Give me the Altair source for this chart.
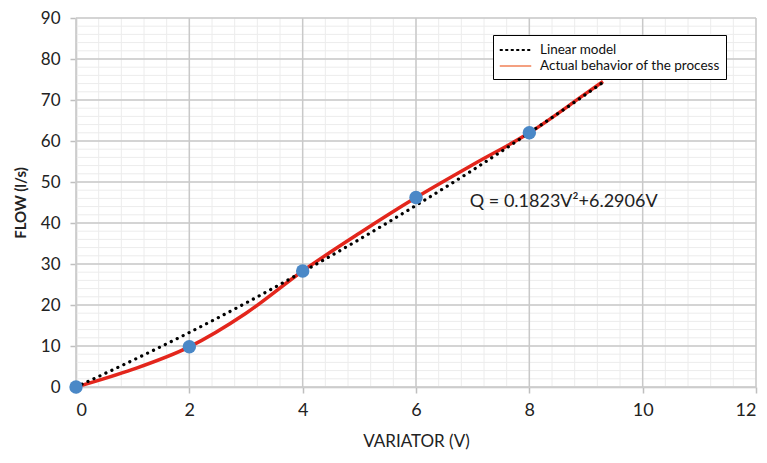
import altair as alt
import pandas as pd
import numpy as np

# Measured points (blue markers)
pt_x = [0, 2, 4, 6, 8]
pt_y = [0, 9.8, 28.3, 46.2, 62.0]

# Actual behaviour curve (red)
act_x = [0, 1, 2, 3, 4, 5, 6, 7, 8, 9, 9.3]
act_y = [0, 4.3, 9.8, 18.0, 28.3, 37.5, 46.2, 54.2, 62.0, 71.6, 74.5]

# Linear model curve (black dotted)
lin_x = [0, 1, 2, 3, 4, 5, 6, 7, 8, 9, 9.3]
lin_y = [0, 6.5, 13.3, 20.5, 28.1, 36.0, 44.3, 52.9, 62.0, 71.4, 74.3]

series_names = ["Linear model", "Actual behavior of the process"]

eq_text = ["Q = 0.1823V\u00b2+6.2906V"]
eq_x = [6.95]
eq_y = [45.2]

x_ticks = [0, 2, 4, 6, 8, 10, 12]
y_ticks = [0, 10, 20, 30, 40, 50, 60, 70, 80, 90]
x_minor = [round(v, 2) for v in np.arange(0, 12.01, 0.4)]
y_minor = [int(v) for v in np.arange(0, 91, 2)]

FONT = "Lato"
xs = alt.Scale(domain=[0, 12], nice=False)
ys = alt.Scale(domain=[0, 90], nice=False)

pts = pd.DataFrame({"x": pt_x, "y": pt_y})
act = pd.DataFrame({"x": act_x, "y": act_y, "series": series_names[1]})
lin = pd.DataFrame({"x": lin_x, "y": lin_y, "series": series_names[0]})

minor_x = alt.Chart(pd.DataFrame({"x": x_minor})).mark_rule(
    color="#ececec", strokeWidth=1
).encode(x=alt.X("x:Q", scale=xs))
minor_y = alt.Chart(pd.DataFrame({"y": y_minor})).mark_rule(
    color="#ececec", strokeWidth=1
).encode(y=alt.Y("y:Q", scale=ys))
major_x = alt.Chart(pd.DataFrame({"x": x_ticks})).mark_rule(
    color="#c9c9c9", strokeWidth=1.5
).encode(x=alt.X("x:Q", scale=xs))
major_y = alt.Chart(pd.DataFrame({"y": y_ticks})).mark_rule(
    color="#c9c9c9", strokeWidth=1.5
).encode(y=alt.Y("y:Q", scale=ys))

# Empty layer carrying the axes and the legend only
legend_layer = alt.Chart(act).mark_line().encode(
    x=alt.X("x:Q", scale=xs,
            axis=alt.Axis(values=x_ticks, format="d", title="VARIATOR (V)", grid=False,
                          domainColor="#bfbfbf", domainWidth=1.5,
                          tickColor="#bfbfbf", tickSize=6, tickWidth=1.5,
                          labelFontSize=18, labelFont=FONT, labelColor="#222",
                          labelPadding=8, titleFont=FONT, titleFontSize=17,
                          titleFontWeight="normal", titleColor="#222",
                          titlePadding=14)),
    y=alt.Y("y:Q", scale=ys,
            axis=alt.Axis(values=y_ticks, format="d", title="FLOW (l/s)", grid=False,
                          domainColor="#bfbfbf", domainWidth=1.5,
                          tickColor="#bfbfbf", tickSize=6, tickWidth=1.5,
                          labelFontSize=17, labelFont=FONT, labelColor="#222",
                          labelPadding=10, titleFont=FONT, titleFontSize=15,
                          titleFontWeight="bold", titleColor="#222",
                          titlePadding=12)),
    color=alt.Color("series:N",
                    scale=alt.Scale(domain=series_names, range=["#000000", "#f4a080"]),
                    legend=alt.Legend(title=None, orient="none", legendX=417, legendY=17,
                                      strokeColor="#000", fillColor="white",
                                      padding=6, labelFont=FONT, labelFontSize=13.5,
                                      labelColor="#111", labelLimit=400,
                                      symbolType="M-2.1,0H2.1",
                                      symbolStrokeWidth=2.2, symbolSize=225,
                                      symbolOffset=7.5, labelOffset=15.5,
                                      rowPadding=0)),
    strokeDash=alt.StrokeDash("series:N",
                              scale=alt.Scale(domain=series_names, range=[[3, 2.5], [1, 0]]),
                              legend=None),
).transform_filter("false")

lin_line = alt.Chart(lin).mark_line(
    color="black", strokeWidth=3.2, strokeDash=[0.1, 6.5], strokeCap="round",
    interpolate="monotone"
).encode(x=alt.X("x:Q", scale=xs), y=alt.Y("y:Q", scale=ys))

act_line = alt.Chart(act).mark_line(
    color="#e3261c", strokeWidth=3.5, interpolate="monotone"
).encode(x=alt.X("x:Q", scale=xs), y=alt.Y("y:Q", scale=ys))

points = alt.Chart(pts).mark_circle(size=180, color="#4a88c7", opacity=1).encode(
    x=alt.X("x:Q", scale=xs), y=alt.Y("y:Q", scale=ys)
)

eq = alt.Chart(pd.DataFrame({"x": eq_x, "y": eq_y, "t": eq_text})).mark_text(
    align="left", baseline="middle", font=FONT, fontSize=18, color="#222"
).encode(x=alt.X("x:Q", scale=xs), y=alt.Y("y:Q", scale=ys), text="t:N")

chart = alt.layer(
    minor_x, minor_y, major_x, major_y, legend_layer, act_line, lin_line, points, eq
).properties(
    width=680, height=369,
    autosize=alt.AutoSizeParams(type="none"),
    padding={"left": 68, "top": 10, "right": 3, "bottom": 66},
).configure_view(stroke=None)

chart.save("out.html", embed_options={"renderer": "svg", "actions": False})
